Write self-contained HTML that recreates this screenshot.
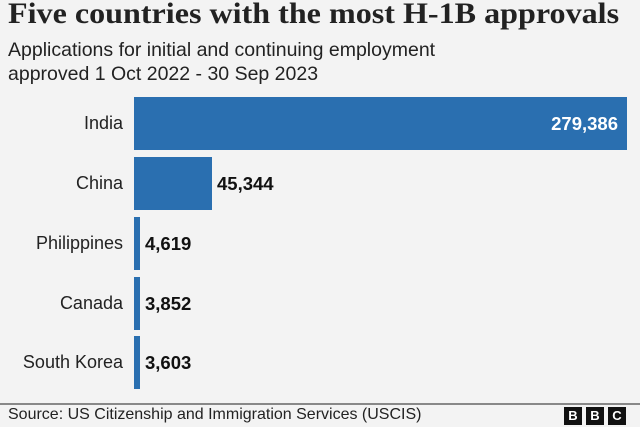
<!DOCTYPE html>
<html><head><style>
body{margin:0;width:640px;height:427px;background:#f3f3f3;position:relative;overflow:hidden;font-family:"Liberation Sans",sans-serif;color:#222}
.t{position:absolute;left:8px;top:-3px;font-family:"Liberation Serif",serif;font-size:30px;font-weight:bold;color:#222;white-space:nowrap;transform-origin:0 0;transform:scaleX(1.07)}
.s{position:absolute;left:8px;top:38px;font-size:19.5px;line-height:24px;color:#222}
.lab{position:absolute;right:517px;font-size:18px;white-space:nowrap}
.bar{position:absolute;left:134px;background:#2a6fb0;height:53px}
.v{position:absolute;font-size:18.5px;font-weight:bold;color:#111}
.line{position:absolute;left:0;width:640px;top:403px;height:2px;background:#888}
.src{position:absolute;left:8px;top:406px;font-size:16px}
.b{position:absolute;top:407px;width:18px;height:18px;background:#111;color:#fff;font-size:13px;font-weight:bold;text-align:center;line-height:18px}
</style></head><body>
<div class="t">Five countries with the most H-1B approvals</div>
<div class="s">Applications for initial and continuing employment<br>approved 1 Oct 2022 - 30 Sep 2023</div>
<div class="bar" style="top:97px;width:493px"></div>
<div class="v" style="right:22px;top:113px;color:#fff">279,386</div>
<div class="lab" style="top:113px">India</div>
<div class="bar" style="top:157px;width:78px"></div>
<div class="v" style="left:217px;top:173px">45,344</div>
<div class="lab" style="top:173px">China</div>
<div class="bar" style="top:217px;width:6px"></div>
<div class="v" style="left:145px;top:233px">4,619</div>
<div class="lab" style="top:233px">Philippines</div>
<div class="bar" style="top:277px;width:6px"></div>
<div class="v" style="left:145px;top:293px">3,852</div>
<div class="lab" style="top:293px">Canada</div>
<div class="bar" style="top:336px;width:6px"></div>
<div class="v" style="left:145px;top:352px">3,603</div>
<div class="lab" style="top:352px">South Korea</div>
<div class="line"></div>
<div class="src">Source: US Citizenship and Immigration Services (USCIS)</div>
<div class="b" style="left:564px">B</div><div class="b" style="left:586px">B</div><div class="b" style="left:608px">C</div>
</body></html>
